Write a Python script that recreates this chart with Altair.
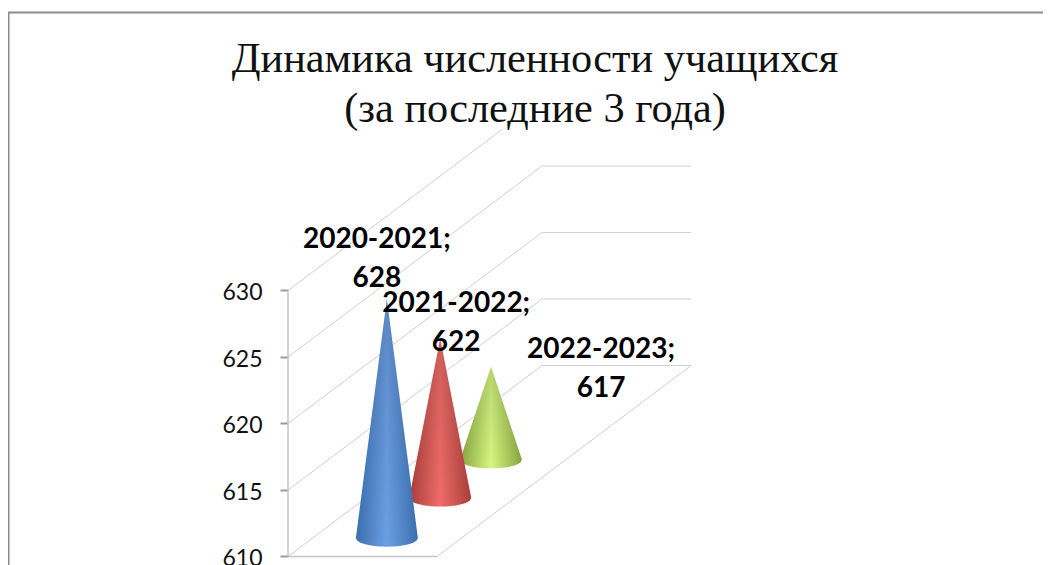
import math
import altair as alt
import pandas as pd

title_lines = ["Динамика численности учащихся", "(за последние 3 года)"]
years = ["2020-2021", "2021-2022", "2022-2023"]
pupils = [628, 622, 617]
depths = [0.096, 0.306, 0.506]
value_ticks = [610, 615, 620, 625, 630]

W, H = 1035, 557
UNITS_X = 149.0        # pixels per floor-width unit
UNITS_Y = 13.3         # pixels per pupil
DEPTH_X = 254 / UNITS_X
DEPTH_Y = 191 / UNITS_Y
BASE = 610
x_dom = [-280 / UNITS_X, (W - 280) / UNITS_X]
y_dom = [BASE - (8 + H - 556.5) / UNITS_Y, BASE + (556.5 - 8) / UNITS_Y]

x_scale = alt.Scale(domain=x_dom, range=[0, W], nice=False, zero=False)
y_scale = alt.Scale(domain=y_dom, range=[H, 0], nice=False, zero=False)
X = alt.X("x:Q", scale=x_scale, axis=None)
Y_PLAIN = alt.Y("y:Q", scale=y_scale, axis=None)
Y = alt.Y("y:Q", scale=y_scale,
          axis=alt.Axis(values=value_ticks, offset=-280, domain=False, grid=False, title=None,
                        tickSize=8, tickWidth=2, tickColor="#9a9a9a", labelPadding=18,
                        labelFont="Lato", labelFontSize=23, labelColor="#111111",
                        labelOffset=2, labelBound=False, labelFlush=False, format="d"))


def proj(fx, depth, v):
    return fx + depth * DEPTH_X, v + depth * DEPTH_Y


def segs(rows, color, width=1):
    df = pd.DataFrame(rows, columns=["x", "y", "x2", "y2"])
    return alt.Chart(df).mark_rule(color=color, strokeWidth=width).encode(
        x=X, x2="x2:Q", y=Y_PLAIN, y2="y2:Q")


grid_rows = []
for v in value_ticks:
    stop = 1.0 if v < 630 else 0.845
    a, b = proj(0, 0, v), proj(0, stop, v)
    grid_rows.append([a[0], a[1], b[0], b[1]])
    if v < 630:
        c = proj(1, 1, v)
        grid_rows.append([b[0], b[1], c[0], c[1]])
f0, f1 = proj(1, 0, BASE), proj(1, 1, BASE)
grid_rows.append([f0[0], f0[1], f1[0], f1[1]])
grid = segs(grid_rows, "#cfcfcf", 1)
floor_front = segs([[0, BASE, 1, BASE]], "#c4c4c4", 1.5)
axis_line = segs([[0, BASE, 0, 630]], "#c4c4c4", 1.5)

axis_layer = alt.Chart(pd.DataFrame({"x": [0.0], "y": [BASE]})).mark_point(opacity=0).encode(x=X, y=Y)

PALETTE = [
    ("#3a6fb0", "#6ba0e5"),
    ("#a83e3b", "#f06d69"),
    ("#88a63e", "#d6f883"),
]
RADIUS_PX = 31
RY = 8.5


def cone(i):
    cx, cy = proj(0.5, depths[i], BASE)
    tip = cy + (pupils[i] - BASE)
    r = RADIUS_PX / UNITS_X
    rows = []
    n = 40
    for k in range(n + 1):
        t = -1 + 2 * k / n
        rows.append({
            "x": cx + t * r,
            "y": tip + abs(t) * (cy - tip),
            "y2": cy - (RY / UNITS_Y) * math.sqrt(max(0, 1 - t * t)),
        })
    df = pd.DataFrame(rows)
    edge, mid = PALETTE[i]
    grad = alt.LinearGradient(
        gradient="linear", x1=0, y1=0, x2=1, y2=0,
        stops=[alt.GradientStop(color=edge, offset=0),
               alt.GradientStop(color=mid, offset=0.5),
               alt.GradientStop(color=edge, offset=1)])
    shade = alt.LinearGradient(
        gradient="linear", x1=0, y1=0, x2=0, y2=1,
        stops=[alt.GradientStop(color="rgba(0,0,0,0.14)", offset=0),
               alt.GradientStop(color="rgba(0,0,0,0)", offset=1)])
    enc = dict(x=X, y=Y_PLAIN, y2="y2:Q")
    return alt.Chart(df).mark_area(color=grad, interpolate="linear").encode(**enc) + \
        alt.Chart(df).mark_area(color=shade, interpolate="linear").encode(**enc)


LABEL_OFFSETS = [(-10, -51), (16, -26), (110, -9)]


def label(i):
    cx, cy = proj(0.5, depths[i], BASE)
    df = pd.DataFrame([{"x": cx, "y": cy + pupils[i] - BASE, "t": f"{years[i]};\n{pupils[i]}"}])
    dx, dy = LABEL_OFFSETS[i]
    return alt.Chart(df).mark_text(
        font="Lato", fontWeight="bold", fontSize=28, color="#000000", align="center",
        baseline="alphabetic", lineBreak="\n", lineHeight=39, dx=dx, dy=dy,
    ).encode(x=X, y=Y_PLAIN, text="t:N")


border = alt.Chart(pd.DataFrame({"k": [0]}))
top_line = border.mark_rule(color="#8a8a8a", strokeWidth=2).encode(
    x=alt.value(0), x2=alt.value(W), y=alt.value(4.5))
left_line = border.mark_rule(color="#8a8a8a", strokeWidth=2).encode(
    x=alt.value(0.5), y=alt.value(4), y2=alt.value(H))

chart = alt.layer(
    top_line, left_line, grid, floor_front, axis_line,
    cone(2), cone(1), cone(0), label(0), label(1), label(2), axis_layer,
).resolve_axis(y="independent").properties(
    width=W, height=H, padding=0, autosize=alt.AutoSizeParams(type="none"),
    title=alt.TitleParams(text=title_lines, font="Liberation Serif", fontSize=42.3, fontWeight="normal",
                          color="#111111", anchor="start", frame="group", lineHeight=50,
                          baseline="alphabetic", align="center", dx=527, dy=160),
).configure_view(stroke=None)

chart.save("out.html", embed_options={"renderer": "svg", "actions": False})
